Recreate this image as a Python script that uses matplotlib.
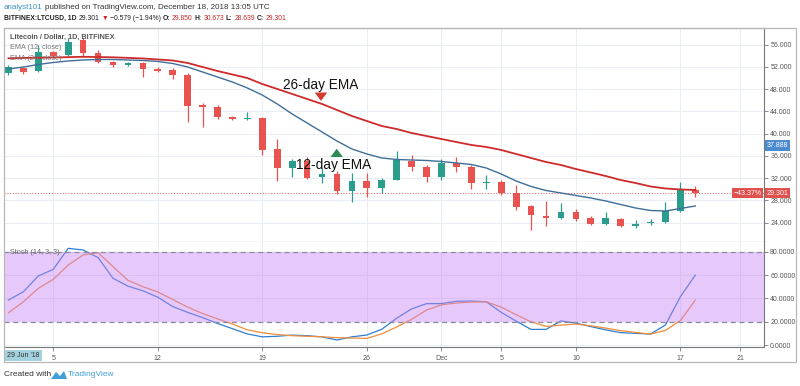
import numpy as np
import pandas as pd
import matplotlib
matplotlib.use("Agg")
import matplotlib.pyplot as plt
import matplotlib.dates as mdates
from matplotlib.patches import Rectangle, Polygon
from matplotlib.transforms import blended_transform_factory

plt.rcParams["font.family"] = ["Liberation Sans", "DejaVu Sans"]

# daily candles, LTC/USD (Bitfinex)
dates = pd.date_range("2018-11-02", "2018-12-18", freq="D")
opens = [50.86, 51.76, 51.27, 54.74, 54.15, 56.84, 54.56, 52.84, 52.40, 52.66,
         51.63, 51.45, 50.55, 45.16, 44.85, 42.95, 42.60, 42.77, 37.25, 33.89,
         35.15, 32.16, 32.75, 29.70, 31.50, 30.18, 31.68, 35.15, 34.07, 32.16,
         34.68, 34.07, 31.08, 31.37, 29.30, 27.00, 25.26, 24.80, 26.00, 24.80,
         23.77, 24.67, 23.46, 23.90, 24.18, 26.16, 29.850]
highs = [52.35, 51.94, 55.90, 54.92, 57.15, 57.20, 55.05, 53.10, 52.90, 52.84,
         52.00, 51.85, 50.97, 45.57, 45.20, 43.20, 43.96, 43.00, 39.00, 35.40,
         35.80, 33.78, 33.30, 32.88, 32.90, 32.00, 36.94, 36.17, 34.30, 35.40,
         35.80, 34.30, 32.57, 31.60, 30.78, 27.20, 27.96, 27.60, 26.40, 25.20,
         26.00, 24.90, 24.50, 24.60, 27.80, 31.37, 30.673]
lows = [50.60, 50.73, 51.15, 53.84, 53.90, 53.84, 52.66, 52.00, 52.10, 50.14,
        51.10, 49.90, 42.16, 41.26, 42.60, 42.40, 42.40, 36.20, 31.50, 32.27,
        31.90, 31.19, 29.16, 27.78, 28.57, 29.40, 31.60, 33.35, 31.37, 31.70,
        33.20, 30.00, 30.00, 29.00, 26.30, 22.70, 23.40, 24.60, 24.30, 23.50,
        23.60, 23.20, 23.00, 23.60, 24.00, 25.90, 28.639]
closes = [51.94, 51.15, 54.74, 54.02, 56.54, 54.56, 52.84, 52.40, 52.66, 51.58,
          51.33, 50.60, 44.98, 44.85, 43.06, 42.60, 42.77, 37.10, 33.89, 35.15,
          32.10, 32.70, 29.70, 31.50, 30.30, 31.68, 35.27, 34.07, 32.16, 34.68,
          33.96, 31.08, 31.37, 29.30, 26.88, 25.38, 24.90, 26.00, 24.67, 23.77,
          24.80, 23.43, 23.70, 24.20, 26.16, 29.88, 29.301]

ema12 = [51.63, 51.99, 52.44, 52.80, 53.07, 53.25, 53.34, 53.34, 53.25, 53.16,
         52.98, 52.62, 51.99, 51.09, 50.19, 49.29, 48.21, 46.95, 45.34, 43.54,
         41.92, 40.30, 38.68, 37.25, 36.35, 35.63, 35.36, 35.27, 35.18, 35.00,
         34.73, 34.46, 33.83, 32.75, 31.49, 30.51, 29.79, 29.34, 28.89, 28.44,
         27.90, 27.27, 26.64, 26.19, 26.10, 26.55, 27.00]
ema26 = [53.55, 53.62, 53.66, 53.70, 53.76, 53.82, 53.78, 53.73, 53.63, 53.52,
         53.34, 53.16, 52.71, 51.99, 51.27, 50.64, 50.01, 48.93, 48.04, 47.14,
         46.24, 45.34, 44.26, 43.18, 42.28, 41.38, 40.84, 40.12, 39.58, 39.04,
         38.50, 37.97, 37.61, 37.07, 36.35, 35.63, 34.91, 34.37, 33.65, 33.02,
         32.39, 31.67, 31.13, 30.51, 30.15, 29.97, 29.88]

stoch_k = [38.6, 45.7, 59.2, 64.9, 82.9, 81.5, 75.0, 57.2, 50.5, 46.5,
           41.0, 33.0, 28.0, 23.5, 18.5, 14.0, 9.5, 7.0, 7.5, 8.5,
           8.0, 7.0, 4.3, 7.0, 8.6, 13.5, 23.0, 31.0, 35.5, 35.5,
           37.5, 37.7, 37.1, 28.0, 20.5, 13.4, 13.4, 20.6, 18.8, 15.8,
           13.0, 10.6, 10.0, 9.4, 17.2, 41.4, 60.0]
stoch_d = [27.7, 37.1, 48.6, 56.3, 68.6, 77.2, 79.2, 67.2, 55.5, 50.0,
           45.5, 39.0, 32.5, 27.0, 22.5, 18.0, 13.0, 10.5, 9.0, 8.0,
           7.5, 7.0, 6.3, 6.0, 5.7, 9.5, 15.5, 22.0, 30.0, 34.5,
           36.0, 36.8, 37.1, 32.5, 26.0, 19.9, 16.0, 17.0, 18.0, 16.5,
           14.5, 12.3, 10.8, 9.4, 12.5, 21.0, 38.6]

tick_dates = ["2018-11-05", "2018-11-12", "2018-11-19", "2018-11-26", "2018-12-01",
              "2018-12-05", "2018-12-10", "2018-12-17", "2018-12-21"]
tick_labels = ["5", "12", "19", "26", "Dec", "5", "10", "17", "21"]
price_ticks = [24, 28, 32, 36, 40, 44, 48, 52, 56]
stoch_ticks = [0, 20, 40, 60, 80]

last_price = 29.301
marker_price = 37.888

GREEN = "#2a9d8c"
RED = "#e8534f"
W, H = 800, 386


def fx(px):
    return px / W


def fy(py):
    return 1 - py / H


x = mdates.date2num(dates)
x0 = mdates.date2num(pd.Timestamp("2018-11-05"))
xlim = (x0 - 3.30, x0 + 47.6)

fig = plt.figure(figsize=(8, 3.86), dpi=100)
fig.patch.set_facecolor("white")

ax = fig.add_axes([fx(4), fy(241.7), fx(760), (241.7 - 28) / H])
ax2 = fig.add_axes([fx(4), fy(347), fx(760), (347 - 241.7) / H])

# ---- price panel ----
up = np.array(closes) >= np.array(opens)
cols = [GREEN if u else RED for u in up]
ax.vlines(x, lows, highs, colors=cols, lw=0.9, zorder=3)
bottoms = np.minimum(opens, closes)
heights = np.maximum(np.abs(np.array(closes) - np.array(opens)), 0.12)
ax.bar(x, heights, bottom=bottoms, width=0.45, color=cols, zorder=4)

ax.plot(x, ema26, color="#cf2a2a", lw=1.3, zorder=5)
ax.plot(x, ema12, color="#3f6f99", lw=1.0, zorder=5)
ax.axhline(last_price, color="#e57373", lw=0.8, ls=(0, (1, 1.5)), zorder=2)

ax.set_xlim(*xlim)
ax.set_ylim(20.58, 59.0)
ax.set_yticks(price_ticks)
ax.set_yticklabels([f"{t:.3f}" for t in price_ticks])
ax.set_xticks(mdates.date2num(pd.to_datetime(tick_dates)))
ax.tick_params(axis="x", length=0, labelbottom=False)
ax.yaxis.tick_right()
ax.tick_params(axis="y", length=3, width=0.6, color="#777777", pad=1.5,
               labelsize=5, labelcolor="#555555")
ax.grid(True, color="#e8eef3", lw=0.7, zorder=0)
for s in ["left", "top"]:
    ax.spines[s].set_visible(False)
for s in ["right", "bottom"]:
    ax.spines[s].set_color("#777777")
    ax.spines[s].set_linewidth(0.8)

# legend-like labels
fig.text(fx(10), fy(37.5), "Litecoin / Dollar, 1D, BITFINEX", fontsize=5.2,
         fontweight="bold", color="#555555", va="center")
fig.text(fx(10), fy(47.5), "EMA (12, close)", fontsize=5.2, color="#777777", va="center")
fig.text(fx(10), fy(59), "EMA (26, close)", fontsize=5.2, color="#777777", va="center")

# annotations
arrow_style = "simple,head_width=0.9,head_length=0.6,tail_width=0.45"
ax.text(x0 + 17.9, 48.75, "26-day EMA", fontsize=9.8, color="#111111",
        ha="center", va="center", zorder=7)
ax.annotate("", xy=(x0 + 17.93, 45.4), xytext=(x0 + 17.93, 47.9),
            arrowprops=dict(arrowstyle=arrow_style, color="#d33a2c", lw=0), zorder=7)
ax.text(x0 + 18.8, 34.4, "12-day EMA", fontsize=9.8, color="#111111",
        ha="center", va="center", zorder=7)
ax.annotate("", xy=(x0 + 18.98, 37.8), xytext=(x0 + 18.98, 35.9),
            arrowprops=dict(arrowstyle=arrow_style, color="#2e8b57", lw=0), zorder=7)

# price scale labels
bt = blended_transform_factory(ax.transAxes, ax.transData)
ax.text(1.003, marker_price, f"{marker_price:.3f}", transform=bt, fontsize=5,
        color="white", va="center", ha="left", zorder=8, clip_on=False,
        bbox=dict(boxstyle="square,pad=0.25", fc="#4c8bd0", ec="none"))
ax.text(1.003, last_price, f"{last_price:.3f}", transform=bt, fontsize=5,
        color="white", va="center", ha="left", zorder=8, clip_on=False,
        bbox=dict(boxstyle="square,pad=0.25", fc="#e0504c", ec="none"))
ax.text(0.997, last_price, "\u221243.37%", transform=bt, fontsize=5,
        color="white", va="center", ha="right", zorder=8, clip_on=False,
        bbox=dict(boxstyle="square,pad=0.25", fc="#e0504c", ec="none"))

# ---- stochastic panel ----
ax2.plot(x, stoch_k, color="#2f7fd0", lw=0.9, zorder=3)
ax2.plot(x, stoch_d, color="#f08c3c", lw=0.9, zorder=3)
ax2.axhspan(20, 80, color="#c885f4", alpha=0.45, lw=0, zorder=4)
for lvl in (20, 80):
    ax2.axhline(lvl, color="#8a8a9a", lw=0.9, ls=(0, (4, 3)), zorder=5)
ax2.set_xlim(*xlim)
ax2.set_ylim(-1.7, 88.6)
ax2.set_yticks(stoch_ticks)
ax2.set_yticklabels([f"{t:.4f}" for t in stoch_ticks])
ax2.yaxis.tick_right()
ax2.tick_params(axis="y", length=3, width=0.6, color="#777777", pad=1.5,
                labelsize=5, labelcolor="#555555")
ax2.set_xticks(mdates.date2num(pd.to_datetime(tick_dates)))
ax2.set_xticklabels(tick_labels)
ax2.tick_params(axis="x", length=3, width=0.6, color="#777777", pad=3,
                labelsize=5, labelcolor="#555555")
ax2.grid(True, color="#e8eef3", lw=0.7, zorder=0)
for s in ["left", "top"]:
    ax2.spines[s].set_visible(False)
for s in ["right", "bottom"]:
    ax2.spines[s].set_color("#777777")
    ax2.spines[s].set_linewidth(0.8)
ax2.text(fx(10), fy(253), "Stoch (14, 3, 3)", transform=fig.transFigure,
         fontsize=5.2, color="#666666", va="center", zorder=9)

# outer frame
fig.patches.append(Rectangle((fx(4), fy(362)), fx(792), (362 - 28) / H,
                             transform=fig.transFigure, fill=False,
                             ec="#b8b8b8", lw=0.9))
fig.lines.append(plt.Line2D([fx(4), fx(764)], [fy(28), fy(28)],
                            transform=fig.transFigure, color="#b8b8b8", lw=0.9))

# date cursor box
fig.text(fx(23.5), fy(355.5), "29 Jun '18", fontsize=5, color="#333333",
         ha="center", va="center",
         bbox=dict(boxstyle="square,pad=0.35", fc="#a3d2de", ec="none"))


# header: pieces laid out one after another
renderer = fig.canvas.get_renderer()


def chain(pieces, x_px, y_px, size, gap=2.5):
    cur = x_px
    for txt, color, weight in pieces:
        t = fig.text(fx(cur), fy(y_px), txt, fontsize=size, fontweight=weight,
                     color=color, va="center")
        cur += t.get_window_extent(renderer=renderer).width + gap


chain([("analyst101", "#3a8fc1", "normal"),
       ("published on TradingView.com, December 18, 2018 13:05 UTC", "#333333", "normal")],
      4, 7.5, 5.8, gap=2.0)
chain([("BITFINEX:LTCUSD, 1D", "#222222", "bold"),
       ("29.301", "#222222", "normal"),
       ("\u25bc", "#c62828", "normal"),
       ("\u22120.579 (\u22121.94%)", "#222222", "normal"),
       ("O:", "#222222", "bold"),
       ("29.850", "#c62828", "normal"),
       ("H:", "#222222", "bold"),
       ("30.673", "#c62828", "normal"),
       ("L:", "#222222", "bold"),
       ("28.639", "#c62828", "normal"),
       ("C:", "#222222", "bold"),
       ("29.301", "#c62828", "normal")],
      4, 18.5, 4.9, gap=1.9)

# footer
fig.text(fx(4), fy(375), "Created with", fontsize=6, color="#333333", va="center")
logo = Polygon([[fx(51), fy(379)], [fx(56), fy(372)], [fx(60), fy(376)],
                [fx(64), fy(371)], [fx(67), fy(379)]],
               closed=True, transform=fig.transFigure, fc="#3fa0d8", ec="none")
fig.patches.append(logo)
fig.text(fx(67.5), fy(375), "TradingView", fontsize=6, color="#3fa0d8", va="center")

fig.savefig("out.png", dpi=100, facecolor="white")
